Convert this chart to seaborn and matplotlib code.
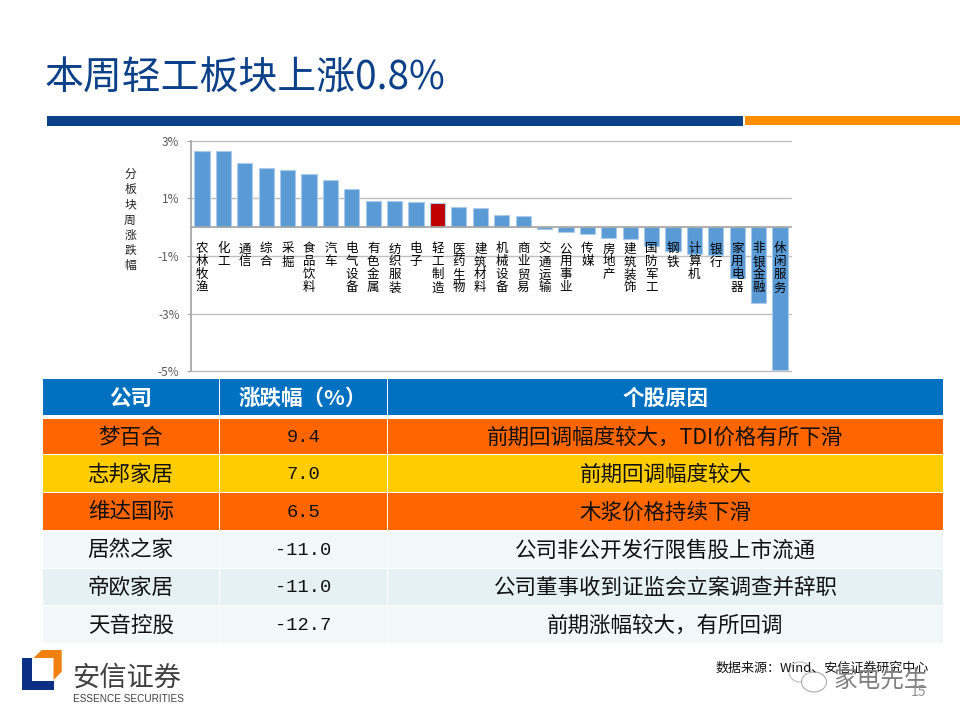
# -*- coding: utf-8 -*-
import matplotlib
matplotlib.use("Agg")
import matplotlib.pyplot as plt
from matplotlib.patches import Rectangle, Polygon, Ellipse
import seaborn as sns
import numpy as np
import pandas as pd

# Chart data
sectors = ["农林牧渔", "化工", "通信", "综合", "采掘", "食品饮料", "汽车", "电气设备", "有色金属", "纺织服装",
           "电子", "轻工制造", "医药生物", "建筑材料", "机械设备", "商业贸易", "交通运输", "公用事业", "传媒", "房地产",
           "建筑装饰", "国防军工", "钢铁", "计算机", "银行", "家用电器", "非银金融", "休闲服务"]
weekly_change = [2.65, 2.64, 2.21, 2.06, 2.00, 1.83, 1.63, 1.32, 0.91, 0.90,
                 0.87, 0.84, 0.69, 0.65, 0.43, 0.39, -0.07, -0.17, -0.24, -0.37,
                 -0.40, -0.64, -0.84, -0.92, -0.96, -1.75, -2.64, -4.95]
y_ticks = [-5, -3, -1, 1, 3]
highlight = "轻工制造"

# Table data
table_header = ["公司", "涨跌幅（%）", "个股原因"]
companies = ["梦百合", "志邦家居", "维达国际", "居然之家", "帝欧家居", "天音控股"]
stock_change = [9.4, 7.0, 6.5, -11.0, -11.0, -12.7]
reasons = ["前期回调幅度较大，TDI价格有所下滑", "前期回调幅度较大", "木浆价格持续下滑",
           "公司非公开发行限售股上市流通", "公司董事收到证监会立案调查并辞职", "前期涨幅较大，有所回调"]
row_colors = ["#FF6600", "#FFCC00", "#FF6600", "#F2F8FA", "#E6F1F4", "#F2F8FA"]

sns.set_theme(style="white")
plt.rcParams['font.family'] = ['Noto Sans CJK SC', 'DejaVu Sans']

fig = plt.figure(figsize=(9.6, 7.2), dpi=100)

# page layer in pixel coords
bg = fig.add_axes([0, 0, 1, 1], zorder=0)
bg.set_xlim(0, 960)
bg.set_ylim(720, 0)
bg.axis("off")

bg.text(45, 79, "本周轻工板块上涨0.8%", fontsize=28, color="#0C4189", va="center", ha="left")
bg.add_patch(Rectangle((47, 116), 696, 10, color="#0C4189", lw=0))
bg.add_patch(Rectangle((745, 116), 215, 9, color="#FF8F00", lw=0))

bg.text(130, 220, "\n".join("分板块周涨跌幅"), fontsize=8.5, color="#222222", ha="center", va="center", linespacing=1.22)

# table
col_x = [(43, 218.5), (219.5, 387), (388, 943)]
row_y = [(419, 454), (455, 492), (493, 530), (531, 567.5), (569, 605), (606, 643)]
for (x0, x1), name in zip(col_x, table_header):
    bg.add_patch(Rectangle((x0, 379), x1 - x0, 36, color="#0070C0", lw=0))
    bg.text((x0 + x1) / 2, 398, name, fontsize=15.5, color="white", fontweight="bold", ha="center", va="center")
for i, (y0, y1) in enumerate(row_y):
    for x0, x1 in col_x:
        bg.add_patch(Rectangle((x0, y0), x1 - x0, y1 - y0, color=row_colors[i], lw=0))
    ym = (y0 + y1) / 2 + 1
    bg.text(sum(col_x[0]) / 2, ym, companies[i], fontsize=15.5, color="#111111", ha="center", va="center")
    bg.text(sum(col_x[1]) / 2, ym, f"{stock_change[i]:.1f}", fontsize=13.5, family="Liberation Mono",
            color="#111111", ha="center", va="center")
    bg.text(sum(col_x[2]) / 2, ym, reasons[i], fontsize=15.5, color="#111111", ha="center", va="center")

# logo
bg.add_patch(Polygon([(22, 658), (32, 658), (32, 680.5), (53.5, 680.5), (53.5, 689.5), (22, 689.5)],
                     color="#0C2F86", lw=0))
bg.add_patch(Polygon([(33.5, 658), (41.7, 650), (61.7, 650), (61.7, 671.7), (53.5, 680), (53.5, 658)],
                     color="#F08010", lw=0))
bg.text(72, 678, "安信证券", fontsize=19.6, color="#404040", ha="left", va="center")
bg.text(73, 699, "ESSENCE SECURITIES", fontsize=7.2, family="Liberation Sans", color="#404040", ha="left", va="center")

# source and watermark
bg.text(716, 668, "数据来源：Wind、安信证券研究中心", fontsize=9.4, color="#111111", ha="left", va="center")
bg.add_patch(Ellipse((800, 672), 22, 20, fc="white", ec="#A0A0A0", lw=0.8, alpha=0.7))
bg.add_patch(Ellipse((814, 682), 25, 20, fc="white", ec="#A0A0A0", lw=0.8, alpha=0.9))
bg.text(834, 680, "家电先生", fontsize=17, color="#808080", ha="left", va="center")
bg.text(918, 692, "15", fontsize=10, color="#909090", ha="center", va="center")

# chart
ax = fig.add_axes([191.3 / 960, (720 - 371.3) / 720, 599.4 / 960, 230.6 / 720], zorder=1)
ax.patch.set_alpha(0)

df = pd.DataFrame({"sector": sectors, "change": weekly_change})
palette = {s: ("#C00000" if s == highlight else "#5B9BD5") for s in sectors}
sns.barplot(data=df, x="sector", y="change", hue="sector", palette=palette, legend=False,
            width=0.71, edgecolor="#A9CBEA", linewidth=0.8, saturation=1, ax=ax)

# set_position resets the ticks, so it has to come before the tick styling
for s in ["top", "right"]:
    ax.spines[s].set_visible(False)
ax.spines["left"].set_color("#A6A6A6")
ax.spines["bottom"].set_color("#A6A6A6")
ax.spines["bottom"].set_position(("data", 0))

ax.set_xlim(-0.5, len(sectors) - 0.5)
ax.set_ylim(-5, 3)
ax.set_xlabel("")
ax.set_ylabel("")
ax.set_yticks(y_ticks)
ax.set_yticklabels([f"{v}%" for v in y_ticks], fontsize=8.5, color="#595959")
ax.set_xticks(range(len(sectors)))
ax.set_xticklabels(["\n".join(s) for s in sectors])
ax.set_xticks(np.arange(-0.5, len(sectors)), minor=True)
ax.tick_params(axis="x", which="major", length=0, pad=11, labelsize=9, labelcolor="black")
ax.tick_params(axis="x", which="minor", length=2.6, width=0.8, color="#A6A6A6")
ax.tick_params(axis="y", which="major", length=3, width=0.8, color="#A6A6A6", left=True, pad=5.5)
for t in ax.get_xticklabels():
    t.set_linespacing(1.0)

# gridlines behind the bars, sector names on top of them
ax.set_axisbelow(True)
ax.grid(axis="y", color="#BFBFBF", lw=1, clip_on=False)
ax.grid(axis="x", visible=False)
ax.xaxis.set_zorder(5)

fig.savefig("out.png", dpi=100)
